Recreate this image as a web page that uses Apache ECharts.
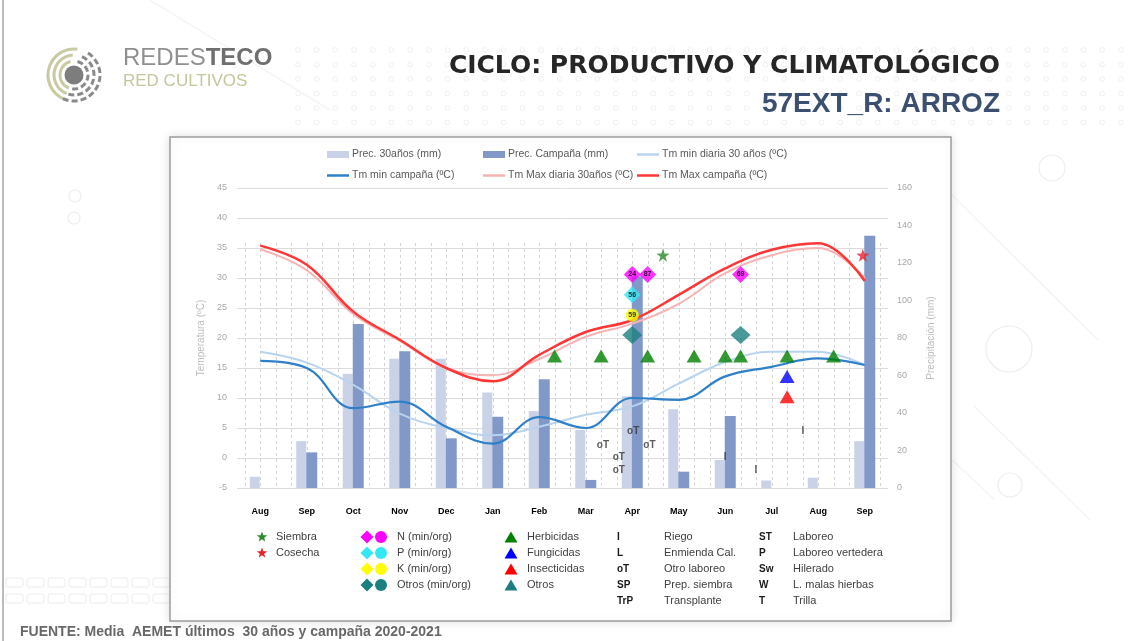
<!DOCTYPE html>
<html>
<head>
<meta charset="utf-8">
<title>Ciclo productivo y climatológico - 57EXT_R: ARROZ</title>
<script src="https://cdn.jsdelivr.net/npm/echarts@6.0.0/dist/echarts.min.js"></script>
<style>
	html, body { margin: 0; padding: 0; background: #fff; }
	#main { width: 1134px; height: 641px; }
</style>
</head>
<body>
<div id="main"></div>
<script>
// campaña ago 2020 - sep 2021
var months = ['Aug', 'Sep', 'Oct', 'Nov', 'Dec', 'Jan', 'Feb', 'Mar', 'Apr', 'May', 'Jun', 'Jul', 'Aug', 'Sep'];

// precipitacion (mm)
var prec30 = [6, 25, 61, 69, 69, 51, 41, 31, 49, 42, 15, 4, 5.5, 25];
var precCamp = [0, 19, 87.5, 73, 26.5, 38, 58, 4.3, 113, 8.7, 38.4, 0, 0, 134.5];

// temperaturas (ºC)
var tmin30 = [17.7, 15.9, 12.2, 7.4, 5.0, 3.8, 5.2, 7.2, 8.6, 12.4, 16.0, 17.7, 17.7, 15.5];
var tminCamp = [16.2, 15.0, 8.3, 9.4, 5.2, 2.4, 6.8, 5.0, 10.0, 9.7, 13.6, 15.2, 16.6, 15.5];
var tmax30 = [34.8, 31.3, 24.0, 19.5, 15.0, 13.8, 16.5, 20.2, 22.4, 25.7, 30.8, 33.8, 35.0, 30.0];
var tmaxCamp = [35.4, 32.2, 24.4, 19.7, 15.0, 12.8, 17.2, 21.0, 23.0, 27.2, 31.6, 34.7, 35.8, 29.5];

// labores: [mes (0 = Aug), altura en ºC, etiqueta]
var siembra = [[8.66, 33.8]];
var cosecha = [[12.96, 33.8]];
var fertN = [[8, 30.6, '24'], [8.33, 30.6, '87'], [10.33, 30.6, '69']];
var fertP = [[8, 27.2, '56']];
var fertK = [[8, 23.8, '59']];
var fertOtros = [[8, 20.5], [10.33, 20.5]];
var herbicidas = [[6.33, 17], [7.33, 17], [8.33, 17], [9.33, 17], [10.0, 17], [10.33, 17], [11.33, 17], [12.33, 17]];
var fungicidas = [[11.33, 13.6]];
var insecticidas = [[11.33, 10.2]];
var otroLaboreo = [[8.02, 4.4], [7.37, 2.2], [8.37, 2.2], [7.71, 0.1], [7.71, -2.1]];
var riego = [[10.0, 0.1], [10.66, -2.1], [11.67, 4.4]];

var FONT = "'Liberation Sans Narrow', 'Liberation Sans', Arial, sans-serif";
var FONT_B = "'Liberation Sans', Arial, sans-serif";
var FONT_W = "'DejaVu Sans', 'Liberation Sans', sans-serif";

// area de trazado
var plotL = 237, plotR = 888, plotT = 188, plotB = 488;
var third = (plotR - plotL) / 42;
var W = 1134, H = 641;

var STAR = 'path://M0,-10L2.35,-3.24L9.51,-3.09L3.8,1.24L5.88,8.09L0,4L-5.88,8.09L-3.8,1.24L-9.51,-3.09L-2.35,-3.24Z';

function starPts(cx, cy, r) {
	var pts = [];
	for (var i = 0; i < 10; i++) {
		var a = -Math.PI / 2 + i * Math.PI / 5;
		var rr = i % 2 === 0 ? r : r * 0.42;
		pts.push([cx + rr * Math.cos(a), cy + rr * Math.sin(a)]);
	}
	return pts;
}
function diamondPts(cx, cy, w, h) {
	return [[cx, cy - h / 2], [cx + w / 2, cy], [cx, cy + h / 2], [cx - w / 2, cy]];
}
function trianglePts(cx, cy, w, h) {
	return [[cx, cy - h / 2], [cx + w / 2, cy + h / 2], [cx - w / 2, cy + h / 2]];
}
function txt(x, y, text, size, color, weight, family, align) {
	return {
		type: 'text', x: x, y: y,
		style: {
			text: text, fill: color, fontSize: size, fontWeight: weight || 'normal',
			fontFamily: family || FONT, align: align || 'left', textAlign: align || 'left',
			verticalAlign: 'middle', textVerticalAlign: 'middle'
		}
	};
}

function buildGraphics() {
	var g = [];
	var i, j;

	// fondo: puntos
	for (j = 0; j < 6; j++) {
		for (i = 0; i < 45; i++) {
			g.push({ type: 'circle', z: -20, shape: { cx: 298 + i * 18.7, cy: 50 + j * 14.5, r: 2.4 },
				style: { fill: null, stroke: '#f0f0f0', lineWidth: 1 } });
		}
	}
	// fondo: rectangulos abajo izq
	for (j = 0; j < 2; j++) {
		for (i = 0; i < 8; i++) {
			g.push({ type: 'rect', z: -20, shape: { x: 6 + i * 21, y: 578 + j * 16, width: 17, height: 9, r: 2 },
				style: { fill: null, stroke: '#ececec', lineWidth: 1 } });
		}
	}
	// fondo: circulos y diagonales
	[[1052, 168, 13], [1009, 349, 23], [1010, 485, 12], [75, 196, 6], [74, 218, 6]].forEach(function(c) {
		g.push({ type: 'circle', z: -20, shape: { cx: c[0], cy: c[1], r: c[2] },
			style: { fill: null, stroke: '#eeeeee', lineWidth: 1.2 } });
	});
	[[952, 195, 1098, 340], [973, 405, 1090, 520], [952, 460, 995, 500], [150, 0, 330, 110]].forEach(function(l) {
		g.push({ type: 'line', z: -20, shape: { x1: l[0], y1: l[1], x2: l[2], y2: l[3] },
			style: { stroke: '#f5f5f5', lineWidth: 1.5 } });
	});
	g.push({ type: 'line', z: -19, shape: { x1: 3, y1: 0, x2: 3, y2: H }, style: { stroke: '#7a7a7a', lineWidth: 1 } });

	// caja del grafico
	g.push({ type: 'rect', z: -10, shape: { x: 170, y: 137, width: 781, height: 484 },
		style: { fill: '#fff', stroke: '#9c9c9c', lineWidth: 1.5, shadowBlur: 10, shadowColor: 'rgba(0,0,0,0.12)' } });

	// logo
	var cx = 74, cy = 75;
	g.push({ type: 'circle', shape: { cx: cx, cy: cy, r: 9.5 }, style: { fill: '#7d7d7d' } });
	[14, 20, 26].forEach(function(r, k) {
		g.push({ type: 'arc', shape: { cx: cx, cy: cy, r: r, startAngle: Math.PI * 0.62, endAngle: Math.PI * (1.42 + k * 0.06), clockwise: true },
			style: { fill: null, stroke: '#c9caa2', lineWidth: 3 } });
		g.push({ type: 'arc', shape: { cx: cx, cy: cy, r: r, startAngle: -Math.PI * (0.42 - k * 0.05), endAngle: Math.PI * (0.56 + k * 0.04), clockwise: true },
			style: { fill: null, stroke: '#8a8a8a', lineWidth: 3, lineDash: [6, 3] } });
	});
	g.push({
		type: 'text', x: 123, y: 58,
		style: {
			text: '{a|REDES}{b|TECO}', verticalAlign: 'middle', textVerticalAlign: 'middle',
			rich: {
				a: { fontSize: 24, fontFamily: FONT_B, fill: '#8f8f8f', color: '#8f8f8f' },
				b: { fontSize: 24, fontFamily: FONT_B, fontWeight: 'bold', fill: '#6f6f6f', color: '#6f6f6f' }
			}
		}
	});
	g.push(txt(123, 81, 'RED CULTIVOS', 17, '#c5c69c', 'normal', FONT_B));

	// titulos
	g.push(txt(1000, 66, 'CICLO: PRODUCTIVO Y CLIMATOLÓGICO', 25, '#262626', 'bold', FONT_W, 'right'));
	g.push(txt(1000, 104, '57EXT_R: ARROZ', 28, '#3b5070', 'bold', FONT_B, 'right'));
	g.push(txt(20, 632, 'FUENTE: Media  AEMET últimos  30 años y campaña 2020-2021', 14, '#686868', 'bold', FONT_B));

	// leyenda inferior
	var rowY = [537, 553, 569, 585, 601];
	var fs = 11;
	var legSiembra = [['Siembra', '#2e8b2e'], ['Cosecha', '#e8202a']];
	legSiembra.forEach(function(it, k) {
		g.push({ type: 'polygon', shape: { points: starPts(262, rowY[k], 5.5) }, style: { fill: it[1] } });
		g.push(txt(276, rowY[k], it[0], fs, '#404040'));
	});
	var legFert = [['N (min/org)', '#ff00ff'], ['P (min/org)', '#33e8f4'], ['K (min/org)', '#ffff00'], ['Otros (min/org)', '#1b7f80']];
	legFert.forEach(function(it, k) {
		g.push({ type: 'polygon', shape: { points: diamondPts(367, rowY[k], 13, 13) }, style: { fill: it[1] } });
		g.push({ type: 'circle', shape: { cx: 381, cy: rowY[k], r: 6 }, style: { fill: it[1] } });
		g.push(txt(397, rowY[k], it[0], fs, '#404040'));
	});
	var legTrat = [['Herbicidas', '#008000'], ['Fungicidas', '#0000ff'], ['Insecticidas', '#ff0000'], ['Otros', '#1b7f80']];
	legTrat.forEach(function(it, k) {
		g.push({ type: 'polygon', shape: { points: trianglePts(511, rowY[k], 13, 11) }, style: { fill: it[1] } });
		g.push(txt(527, rowY[k], it[0], fs, '#404040'));
	});
	var legLab1 = [['I', 'Riego'], ['L', 'Enmienda Cal.'], ['oT', 'Otro laboreo'], ['SP', 'Prep. siembra'], ['TrP', 'Transplante']];
	legLab1.forEach(function(it, k) {
		g.push(txt(617, rowY[k], it[0], 10, '#1a1a1a', 'bold', FONT_B));
		g.push(txt(664, rowY[k], it[1], fs, '#404040'));
	});
	var legLab2 = [['ST', 'Laboreo'], ['P', 'Laboreo vertedera'], ['Sw', 'Hilerado'], ['W', 'L. malas hierbas'], ['T', 'Trilla']];
	legLab2.forEach(function(it, k) {
		g.push(txt(759, rowY[k], it[0], 10, '#1a1a1a', 'bold', FONT_B));
		g.push(txt(793, rowY[k], it[1], fs, '#404040'));
	});
	return g;
}

function legendAt(left, top, name, isBar) {
	return {
		left: left, top: top, padding: 0, selectedMode: false,
		data: [name], itemWidth: 22, itemHeight: isBar ? 7 : 2.5,
		icon: 'rect', itemGap: 4,
		textStyle: { fontSize: 10.5, color: '#595959', fontFamily: FONT, padding: [0, 0, 0, -2] }
	};
}

function pairs(arr) {
	return arr.map(function(v, i) { return [i, v]; });
}

function textMarks(name, data, label) {
	return {
		name: name, type: 'scatter', xAxisIndex: 0, yAxisIndex: 0, z: 6,
		data: data, symbol: 'rect', symbolSize: 1,
		itemStyle: { color: 'rgba(0,0,0,0)' },
		label: { show: true, position: 'inside', formatter: label, fontSize: 10, fontWeight: 'bold', color: '#333', fontFamily: FONT_B }
	};
}

var chart = echarts.init(document.getElementById('main'), null, { renderer: 'canvas' });

var option = {
	animation: false,
	backgroundColor: '#fff',
	graphic: { elements: buildGraphics() },
	legend: [
		legendAt(327, 149, 'Prec. 30años (mm)', true),
		legendAt(483, 149, 'Prec. Campaña (mm)', true),
		legendAt(637, 149, 'Tm min diaria 30 años (ºC)', false),
		legendAt(327, 170, 'Tm min campaña (ºC)', false),
		legendAt(483, 170, 'Tm Max diaria 30años (ºC)', false),
		legendAt(637, 170, 'Tm Max campaña (ºC)', false)
	],
	grid: [
		{ left: plotL, right: W - plotR, top: plotT, bottom: H - plotB },
		// rejilla vertical discontinua (cada 10 dias)
		{ left: plotL + third / 2, right: W - plotR + third / 2, top: 243, bottom: H - plotB }
	],
	xAxis: [
		{
			type: 'value', gridIndex: 0, min: -0.5, max: 13.5,
			axisLine: { show: false }, axisTick: { show: false }, axisLabel: { show: false }, splitLine: { show: false }
		},
		{
			type: 'value', gridIndex: 1, min: -1, max: 40, interval: 1,
			axisLine: { show: false }, axisTick: { show: false },
			splitLine: { show: true, lineStyle: { color: '#d4d4d4', type: [3, 3], width: 1 } },
			axisLabel: {
				margin: 19, fontSize: 9, fontWeight: 'bold', color: '#000', fontFamily: FONT,
				formatter: function(v) {
					if (v < 0 || v > 39 || v % 3 !== 0) return '';
					return months[v / 3];
				}
			}
		}
	],
	yAxis: [
		{
			type: 'value', gridIndex: 0, min: -5, max: 45, interval: 5, position: 'left',
			name: 'Temperatura (ºC)', nameLocation: 'middle', nameGap: 29, nameRotate: 90,
			nameTextStyle: { color: '#bdbdbd', fontSize: 10, fontFamily: FONT },
			axisLine: { show: false }, axisTick: { show: false },
			axisLabel: { margin: 10, color: '#a8a8a8', fontSize: 9, fontFamily: FONT },
			splitLine: { show: true, lineStyle: { color: '#dcdcdc', width: 1 } }
		},
		{
			type: 'value', gridIndex: 0, min: 0, max: 160, interval: 20, position: 'right',
			name: 'Precipitación (mm)', nameLocation: 'middle', nameGap: 38, nameRotate: 90,
			nameTextStyle: { color: '#bdbdbd', fontSize: 10, fontFamily: FONT },
			axisLine: { show: false }, axisTick: { show: false },
			axisLabel: { margin: 9, color: '#a8a8a8', fontSize: 9, fontFamily: FONT },
			splitLine: { show: false }
		},
		{ type: 'value', gridIndex: 1, min: 0, max: 1, show: false }
	],
	series: [
		{
			name: 'Prec. 30años (mm)', type: 'bar', xAxisIndex: 0, yAxisIndex: 1,
			data: pairs(prec30), barWidth: 10, barGap: '0%', itemStyle: { color: '#c9d2e7' }
		},
		{
			name: 'Prec. Campaña (mm)', type: 'bar', xAxisIndex: 0, yAxisIndex: 1,
			data: pairs(precCamp), barWidth: 11, barGap: '0%', itemStyle: { color: '#8198c8' }
		},
		{
			name: 'Tm min diaria 30 años (ºC)', type: 'line', xAxisIndex: 0, yAxisIndex: 0, z: 3,
			data: pairs(tmin30), smooth: 0.4, symbol: 'none', showSymbol: false,
			lineStyle: { color: '#b7d3ee', width: 2 }, itemStyle: { color: '#b7d3ee' }
		},
		{
			name: 'Tm Max diaria 30años (ºC)', type: 'line', xAxisIndex: 0, yAxisIndex: 0, z: 3,
			data: pairs(tmax30), smooth: 0.4, symbol: 'none', showSymbol: false,
			lineStyle: { color: '#f7b3b3', width: 2 }, itemStyle: { color: '#f7b3b3' }
		},
		{
			name: 'Tm min campaña (ºC)', type: 'line', xAxisIndex: 0, yAxisIndex: 0, z: 4,
			data: pairs(tminCamp), smooth: 0.4, symbol: 'none', showSymbol: false,
			lineStyle: { color: '#2f80c8', width: 2.2 }, itemStyle: { color: '#2f80c8' }
		},
		{
			name: 'Tm Max campaña (ºC)', type: 'line', xAxisIndex: 0, yAxisIndex: 0, z: 4,
			data: pairs(tmaxCamp), smooth: 0.4, symbol: 'none', showSymbol: false,
			lineStyle: { color: '#ff3636', width: 2.5 }, itemStyle: { color: '#ff3636' }
		},
		{
			name: 'Siembra', type: 'scatter', z: 6, data: siembra, symbol: STAR, symbolSize: 13,
			itemStyle: { color: '#2e8b2e' }
		},
		{
			name: 'Cosecha', type: 'scatter', z: 6, data: cosecha, symbol: STAR, symbolSize: 13,
			itemStyle: { color: '#e8202a' }
		},
		{
			name: 'Otros (min/org)', type: 'scatter', z: 6, data: fertOtros, symbol: 'diamond', symbolSize: [20, 18],
			itemStyle: { color: '#1b7f80' }
		},
		{
			name: 'N (min/org)', type: 'scatter', z: 6, data: fertN, symbol: 'diamond', symbolSize: [17, 17],
			itemStyle: { color: '#ff00ff' },
			label: { show: true, position: 'inside', formatter: function(p) { return p.value[2]; }, fontSize: 7, fontWeight: 'bold', color: '#000' }
		},
		{
			name: 'P (min/org)', type: 'scatter', z: 6, data: fertP, symbol: 'diamond', symbolSize: [17, 17],
			itemStyle: { color: '#33e8f4' },
			label: { show: true, position: 'inside', formatter: function(p) { return p.value[2]; }, fontSize: 7, fontWeight: 'bold', color: '#000' }
		},
		{
			name: 'K (min/org)', type: 'scatter', z: 6, data: fertK, symbol: 'circle', symbolSize: 13,
			itemStyle: { color: '#ffff00' },
			label: { show: true, position: 'inside', formatter: function(p) { return p.value[2]; }, fontSize: 7, fontWeight: 'bold', color: '#000' }
		},
		{
			name: 'Herbicidas', type: 'scatter', z: 6, data: herbicidas, symbol: 'triangle', symbolSize: [15, 13],
			itemStyle: { color: '#008000' }
		},
		{
			name: 'Fungicidas', type: 'scatter', z: 6, data: fungicidas, symbol: 'triangle', symbolSize: [15, 13],
			itemStyle: { color: '#0000ff' }
		},
		{
			name: 'Insecticidas', type: 'scatter', z: 6, data: insecticidas, symbol: 'triangle', symbolSize: [15, 13],
			itemStyle: { color: '#ff0000' }
		},
		textMarks('Otro laboreo', otroLaboreo, 'oT'),
		textMarks('Riego', riego, 'I')
	]
};

chart.setOption(option);
</script>
</body>
</html>
